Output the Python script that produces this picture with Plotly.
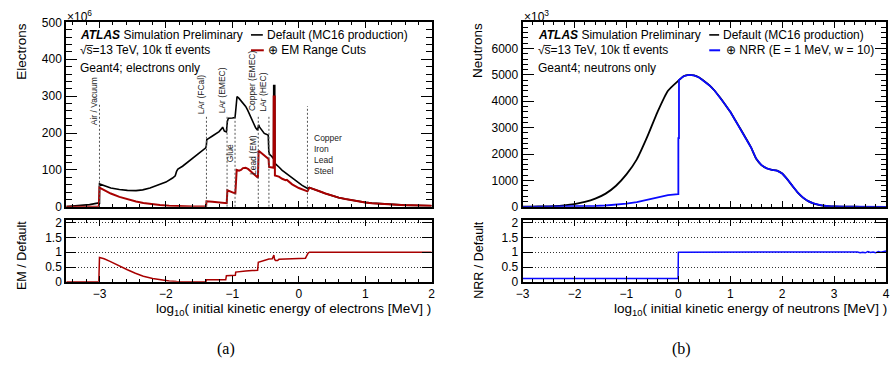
import plotly.graph_objects as go

W, H = 894, 369
FONT = "Liberation Sans, Arial, Helvetica, sans-serif"

# ---------------- data: (a) electrons ----------------
e_def_x = [-3.5, -3.3, -3.15, -3.03, -3.0, -3.0, -2.92, -2.83, -2.7, -2.58, -2.45, -2.35, -2.24, -2.1, -2.0,
           -1.9, -1.86, -1.84, -1.82, -1.75, -1.62, -1.5, -1.4, -1.392, -1.385, -1.3, -1.2, -1.16, -1.147,
           -1.12, -1.09, -1.075, -1.06, -1.0, -0.96, -0.945, -0.93, -0.9, -0.87, -0.83, -0.8, -0.77, -0.74,
           -0.71, -0.68, -0.65, -0.62, -0.605, -0.59, -0.55, -0.52, -0.49, -0.46, -0.452, -0.44, -0.41,
           -0.38, -0.378, -0.362, -0.36, -0.33, -0.3, -0.25, -0.2, -0.15, -0.1, -0.05, 0.0, 0.05, 0.1, 0.13,
           0.16, 0.2, 0.3, 0.4, 0.5, 0.6, 0.7, 0.8, 0.9, 1.0, 1.1, 1.2, 1.3, 1.4, 1.5, 1.6, 1.7, 1.8, 1.9, 2.0]
e_def_y = [1, 3, 6, 10, 10, 62, 56, 51, 47, 44.5, 44, 46, 51, 60, 67,
           78, 84, 96, 102, 110, 128, 145, 160, 166, 182, 192, 204, 212, 216,
           205, 203, 232, 240, 241, 242, 270, 299, 294, 287, 280, 272, 262, 250,
           238, 224, 214, 208, 222, 216, 205, 199, 197, 194, 150, 142, 137,
           130, 329, 329, 118, 114, 108, 99, 92, 85, 77, 70, 64, 58, 53, 50,
           52, 50, 43, 36, 30, 25, 21, 17.5, 14.5, 12, 10, 8.5, 7, 6, 5.2, 4.5, 4, 3.5, 3.1, 2.8]

e_em_x = [-3.5, -3.01, -3.0, -2.92, -2.83, -2.7, -2.58, -2.45, -2.34, -2.2, -2.09, -1.95, -1.84, -1.6, -1.395,
          -1.39, -1.3, -1.2, -1.1, -1.085, -1.075, -1.03, -0.98, -0.955, -0.935, -0.9, -0.87, -0.84, -0.8,
          -0.76, -0.72, -0.68, -0.64, -0.615, -0.605, -0.57, -0.53, -0.49, -0.455, -0.448, -0.42, -0.38,
          -0.378, -0.362, -0.36, -0.3, -0.25, -0.2, -0.18, -0.1, 0.0, 0.05, 0.1, 0.13,
          0.16, 0.2, 0.3, 0.4, 0.5, 0.6, 0.7, 0.8, 0.9, 1.0, 1.1, 1.2, 1.3, 1.4, 1.5, 1.6, 1.7, 1.8, 1.9, 2.0]
e_em_y = [0, 0.3, 52, 44, 36, 27, 20, 14.5, 10.5, 7, 5, 3, 2, 1, 1,
          15, 13.5, 12, 10.5, 10, 45, 41, 38, 37, 100, 98, 100, 105, 106,
          102, 96, 88, 82, 79, 152, 147, 140, 134, 130, 108, 107, 106,
          299, 299, 85, 82, 76, 72, 73, 61, 51, 47, 43, 42,
          52, 50, 43, 36, 30, 25, 21, 17.5, 14.5, 12, 10, 8.5, 7, 6, 5.2, 4.5, 4, 3.5, 3.1, 2.8]

e_ratio_x = [-3.5, -3.37, -3.35, -3.33, -3.01, -3.0, -2.93, -2.85, -2.78, -2.7, -2.58, -2.46, -2.34, -2.2,
             -2.09, -1.95, -1.84, -1.6, -1.395, -1.39, -1.25, -1.1, -1.09, -1.0, -0.955, -0.95, -0.9, -0.8,
             -0.7, -0.62, -0.61, -0.57, -0.53, -0.5, -0.47, -0.45, -0.4, -0.375, -0.365, -0.35, -0.32, -0.3,
             -0.2, -0.1, 0.0, 0.08, 0.1, 0.14, 0.16, 2.0]
e_ratio_y = [0, 0, 0.02, 0, 0, 0.82, 0.78, 0.70, 0.62, 0.53, 0.41, 0.29, 0.19, 0.11,
             0.07, 0.03, 0.015, 0.005, 0.005, 0.07, 0.07, 0.07, 0.21, 0.22, 0.22, 0.33, 0.35, 0.37,
             0.38, 0.39, 0.66, 0.69, 0.70, 0.73, 0.75, 0.77, 0.78, 0.90, 0.76, 0.72, 0.72, 0.76,
             0.77, 0.78, 0.78, 0.78, 0.80, 0.97, 1.0, 1.0]

# material boundaries (log10 E) and labels
bound_x = [-3.0, -1.39, -1.08, -0.96, -0.61, -0.45, 0.13]
bound_top = [281, 247, 247, 247, 247, 247, 273]
vlabels = ["Air / Vacuum", "LAr (FCal)", "LAr (EMEC)", "Glue", "Lead (EM)", "Copper (EMEC)", "LAr (HEC)"]
vlabel_x = [-3.0, -1.39, -1.08, -0.96, -0.61, -0.61, -0.45]
vlabel_bottom_px = [125, 113, 113, 164, 177, 110, 111]
materials = ["Copper", "Iron", "Lead", "Steel"]

# ---------------- data: (b) neutrons ----------------
n_def_x = [-3.0, -2.8, -2.6, -2.4, -2.2, -2.0, -1.8, -1.6, -1.4, -1.2, -1.0, -0.8, -0.6, -0.4, -0.2, 0.0,
           0.1, 0.2, 0.3, 0.4, 0.5, 0.6, 0.7, 0.8, 0.9, 1.0, 1.1, 1.2, 1.3, 1.4, 1.5, 1.6, 1.7, 1.8, 1.9,
           2.0, 2.1, 2.2, 2.3, 2.4, 2.5, 2.6, 2.7, 2.8, 2.9, 3.0, 3.2, 3.4, 3.6, 3.8, 4.0]
n_def_y = [3, 8, 16, 30, 58, 105, 185, 310, 500, 800, 1230, 1800, 2650, 3600, 4400, 4780,
           4950, 5000, 4980, 4900, 4760, 4600, 4400, 4150, 3880, 3600, 3270, 2940, 2600, 2250, 1820, 1580,
           1460, 1400, 1370, 1260, 1040, 780, 540, 350, 215, 130, 75, 40, 22, 12, 5, 2, 1, 0.5, 0.3]

n_nrr_x = [-3.0, -2.8, -2.6, -2.4, -2.2, -2.0, -1.8, -1.6, -1.4, -1.2, -1.0, -0.8, -0.6, -0.4, -0.2, -0.005,
           0.0, 0.0, 0.012, 0.012,
           0.1, 0.2, 0.3, 0.4, 0.5, 0.6, 0.7, 0.8, 0.9, 1.0, 1.1, 1.2, 1.3, 1.4, 1.5, 1.6, 1.7, 1.8, 1.9,
           2.0, 2.1, 2.2, 2.3, 2.4, 2.5, 2.6, 2.7, 2.8, 2.9, 3.0, 3.2, 3.4, 3.6, 3.8, 4.0]
n_nrr_y = [0.3, 0.8, 1.6, 3, 6, 11, 19, 31, 50, 80, 123, 180, 265, 360, 440, 478,
           478, 2600, 2600, 4810,
           4950, 5000, 4980, 4900, 4760, 4600, 4400, 4150, 3880, 3600, 3270, 2940, 2600, 2250, 1820, 1580,
           1460, 1400, 1370, 1260, 1040, 780, 540, 350, 215, 130, 75, 40, 22, 12, 5, 2, 1, 0.5, 0.3]

n_ratio_x = [-3.0, -0.005, 0.0, 3.3, 3.4, 3.45, 3.5, 3.55, 3.6, 3.65, 3.7, 3.75, 3.8, 3.85, 3.9, 3.95, 4.0]
n_ratio_y = [0.11, 0.11, 1.0, 1.0, 0.99, 1.01, 0.98, 1.0, 0.98, 1.02, 0.99, 1.01, 0.98, 1.02, 1.0, 1.03, 1.04]

# ---------------- figure ----------------
RED = "#a80000"
BLUE = "#0a0aff"


def X(p):
    return p / W


def Y(p):
    return 1 - p / H


fig = go.Figure()
fig.add_trace(go.Scatter(x=e_def_x, y=e_def_y, mode="lines", line=dict(color="black", width=1.6),
                         xaxis="x", yaxis="y", showlegend=False, hoverinfo="skip"))
fig.add_trace(go.Scatter(x=e_em_x, y=e_em_y, mode="lines", line=dict(color=RED, width=2),
                         xaxis="x", yaxis="y", showlegend=False, hoverinfo="skip"))
fig.add_trace(go.Scatter(x=e_ratio_x, y=e_ratio_y, mode="lines", line=dict(color=RED, width=1.5),
                         xaxis="x2", yaxis="y2", showlegend=False, hoverinfo="skip"))
fig.add_trace(go.Scatter(x=n_def_x, y=n_def_y, mode="lines", line=dict(color="black", width=1.8, shape="spline", smoothing=0.6),
                         xaxis="x3", yaxis="y3", showlegend=False, hoverinfo="skip"))
fig.add_trace(go.Scatter(x=n_nrr_x, y=n_nrr_y, mode="lines", line=dict(color=BLUE, width=1.8),
                         xaxis="x3", yaxis="y3", showlegend=False, hoverinfo="skip"))
fig.add_trace(go.Scatter(x=n_ratio_x, y=n_ratio_y, mode="lines", line=dict(color=BLUE, width=1.5),
                         xaxis="x4", yaxis="y4", showlegend=False, hoverinfo="skip"))

common = dict(showline=True, linecolor="black", linewidth=2, mirror="allticks", ticks="inside",
              tickcolor="black", tickwidth=1, zeroline=False, showgrid=False,
              tickfont=dict(family=FONT, size=12, color="black"))

dom_left = [X(60), X(430)]
dom_right = [X(522), X(890)]
dom_main = [Y(207.7), Y(16)]
dom_ratio = [Y(285.7), Y(221)]

xmain = dict(common, dtick=1, ticklen=6, showticklabels=False,
             minor=dict(dtick=0.2, ticklen=3, ticks="inside", tickcolor="black"))
xratio = dict(common, dtick=1, ticklen=6, showticklabels=True,
              minor=dict(dtick=0.2, ticklen=3, ticks="inside", tickcolor="black"))
yratio = dict(common, range=[0, 2.1], tickvals=[0, 0.5, 1, 1.5, 2], ticktext=["0", "0.5", "1", "1.5", "2"],
              ticklen=10, showgrid=True, griddash="1px,2px", gridcolor="#333", gridwidth=1)

fig.update_layout(
    width=W, height=H, margin=dict(l=0, r=0, t=0, b=0),
    paper_bgcolor="white", plot_bgcolor="rgba(0,0,0,0)",
    xaxis=dict(xmain, domain=dom_left, range=[-3.5, 2], anchor="y"),
    yaxis=dict(common, domain=dom_main, range=[0, 500], dtick=100, ticklen=11, anchor="x",
               minor=dict(dtick=20, ticklen=5.5, ticks="inside", tickcolor="black")),
    xaxis2=dict(xratio, domain=dom_left, range=[-3.5, 2], anchor="y2"),
    yaxis2=dict(yratio, domain=dom_ratio, anchor="x2"),
    xaxis3=dict(xmain, domain=dom_right, range=[-3, 4], anchor="y3"),
    yaxis3=dict(common, domain=dom_main, range=[0, 6990], dtick=1000, ticklen=11, anchor="x3",
                minor=dict(dtick=200, ticklen=5.5, ticks="inside", tickcolor="black")),
    xaxis4=dict(xratio, domain=dom_right, range=[-3, 4], anchor="y4"),
    yaxis4=dict(yratio, domain=dom_ratio, anchor="x4"),
)

shapes = []
for bx, bt in zip(bound_x, bound_top):
    shapes.append(dict(type="line", xref="x", yref="y", x0=bx, x1=bx, y0=0, y1=bt,
                       line=dict(color="#555", width=1, dash="2px,2px")))
# legend line samples
for x0, x1, yy, col, w in [(247, 259, 29, "black", 1.6), (247, 260, 45, RED, 2),
                           (711, 721, 29, "black", 1.6), (711, 722, 45, BLUE, 2)]:
    shapes.append(dict(type="line", xref="paper", yref="paper", x0=X(x0), x1=X(x1), y0=Y(yy), y1=Y(yy),
                       line=dict(color=col, width=w)))
fig.update_layout(shapes=shapes)

ann = []


def txt(text, x, y, size=12, xa="left", ya="middle", angle=0, family=FONT, color="black", **kw):
    ann.append(dict(text=text, x=X(x), y=Y(y), xref="paper", yref="paper", xanchor=xa, yanchor=ya,
                    textangle=angle, showarrow=False, font=dict(family=family, size=size, color=color), **kw))


# panel (a)
txt("×10<sup>6</sup>", 59, 9, size=12)
txt("Electrons", 15, 14, size=13.5, xa="center", ya="top", angle=-90)
txt("EM / Default", 15, 220, size=12.5, xa="center", ya="top", angle=-90)
txt("<b><i>ATLAS</i></b> Simulation Preliminary", 72, 29)
txt("√s̅=13 TeV, 10k tt̄ events", 72, 45)
txt("Geant4; electrons only", 72, 63)
txt("Default (MC16 production)", 261, 29)
txt("⊕ EM Range Cuts", 262, 45)
txt("log<sub>10</sub>( initial kinetic energy of electrons [MeV] )", 431, 304, size=13.5, xa="right", ya="top")
txt("(a)", 222, 355, size=16, xa="center", family="Liberation Serif, Times New Roman, serif")
txt("<br>".join(materials), 309, 153, size=8.5, align="left", color="#222")

for lab, lx, lb in zip(vlabels, vlabel_x, vlabel_bottom_px):
    ann.append(dict(text=lab, x=lx, xref="x", y=Y(lb), yref="paper", xanchor="center", yanchor="bottom",
                    xshift=-5.5, textangle=-90, showarrow=False,
                    font=dict(family=FONT, size=8.5, color="#222")))

# panel (b)
txt("×10<sup>3</sup>", 521, 9, size=12)
txt("Neutrons", 477, 15, size=13.5, xa="center", ya="top", angle=-90)
txt("NRR / Default", 478, 220, size=12.5, xa="center", ya="top", angle=-90)
txt("<b><i>ATLAS</i></b> Simulation Preliminary", 536, 29)
txt("√s̅=13 TeV, 10k tt̄ events", 536, 45)
txt("Geant4; neutrons only", 536, 63)
txt("Default (MC16 production)", 723, 29)
txt("⊕ NRR (E = 1 MeV, w = 10)", 726, 45)
txt("log<sub>10</sub>( initial kinetic energy of neutrons [MeV] )", 893, 304, size=13.5, xa="right", ya="top")
txt("(b)", 683, 355, size=16, xa="center", family="Liberation Serif, Times New Roman, serif")

fig.update_layout(annotations=ann)
fig.write_html("out.html")
